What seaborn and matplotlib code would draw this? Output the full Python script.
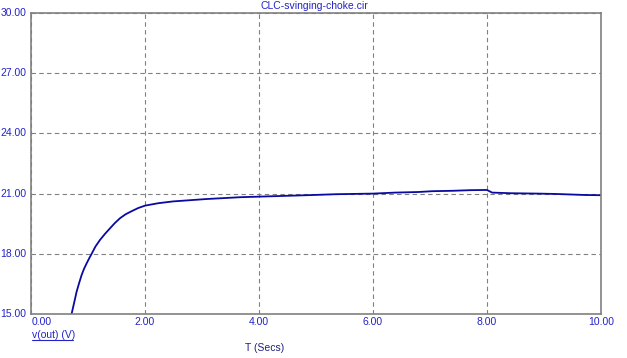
import matplotlib
matplotlib.use("Agg")
import matplotlib.pyplot as plt
import seaborn as sns
import pandas as pd

sns.set_style("white")
plt.rcParams['font.family'] = ['Liberation Sans', 'DejaVu Sans']

title = "CLC-svinging-choke.cir"
x_ticks = [0, 2, 4, 6, 8, 10]
y_ticks = [15, 18, 21, 24, 27, 30]
t = [0.70, 0.714, 0.76, 0.80, 0.845, 0.889, 0.93, 0.977, 1.02, 1.06, 1.13, 1.21, 1.30, 1.386, 1.47, 1.56,
     1.66, 1.77, 1.88, 2.00, 2.23, 2.49, 3.08, 3.67, 4.25, 4.84, 5.36, 6.00, 6.39, 6.80, 7.04, 7.40, 7.70,
     7.95, 8.00, 8.09, 8.40, 8.90, 9.23, 9.72, 10.0]
v = [14.95, 15.03, 15.60, 16.11, 16.55, 16.95, 17.25, 17.53, 17.77, 17.98, 18.36, 18.69, 19.00, 19.27, 19.53, 19.77,
     19.97, 20.13, 20.28, 20.40, 20.52, 20.61, 20.73, 20.82, 20.87, 20.92, 20.97, 21.0, 21.05, 21.08, 21.12, 21.14,
     21.17, 21.18, 21.18, 21.05, 21.02, 21.0, 20.98, 20.93, 20.92]

df = pd.DataFrame({"t": t, "v": v})

blue_txt = "#2323c8"
fs = 7.5
fig = plt.figure(figsize=(6.27, 3.58), dpi=100)
ax = fig.add_axes([31/627, 44/358, 570/627, 301/358])
sns.lineplot(data=df, x="t", y="v", ax=ax, color="#0a0aa0", linewidth=1.3)
ax.set_xlim(0, 10)
ax.set_ylim(15, 30)
ax.set_xticks(x_ticks)
ax.set_yticks(y_ticks)
ax.set_xticklabels([])
ax.set_yticklabels([])
ax.tick_params(length=0)
ax.grid(True, color="#808080", linestyle=(0, (4, 3)), linewidth=0.8)
for s in ax.spines.values():
    s.set_color("#808080")
    s.set_linewidth(1.2)
ax.set_xlabel("")
ax.set_ylabel("")

for yv in y_ticks:
    ax.text(-0.08, yv, f"{yv:.2f}", ha="right", va="center", fontsize=fs, color=blue_txt, clip_on=False)
for xv in x_ticks:
    ha = "left" if xv == 0 else "center"
    fig.text((31 + 57 * xv + (1 if xv == 0 else 0)) / 627, 1 - 322/358, f"{xv:.2f}", ha=ha, va="center",
             fontsize=fs, color=blue_txt)

fig.text(314/627, 1 - 6/358, title, ha="center", va="center", fontsize=fs, color=blue_txt)
lbl = fig.text(32/627, 1 - 335/358, "v(out) (V)", ha="left", va="center", fontsize=fs, color=blue_txt)
fig.add_artist(plt.Line2D([32/627, 73/627], [1 - 339.5/358, 1 - 339.5/358], color=blue_txt, linewidth=0.8))
fig.text(265/627, 1 - 348/358, "T (Secs)", ha="center", va="center", fontsize=fs, color="#202080")

fig.savefig("out.png", dpi=100)
